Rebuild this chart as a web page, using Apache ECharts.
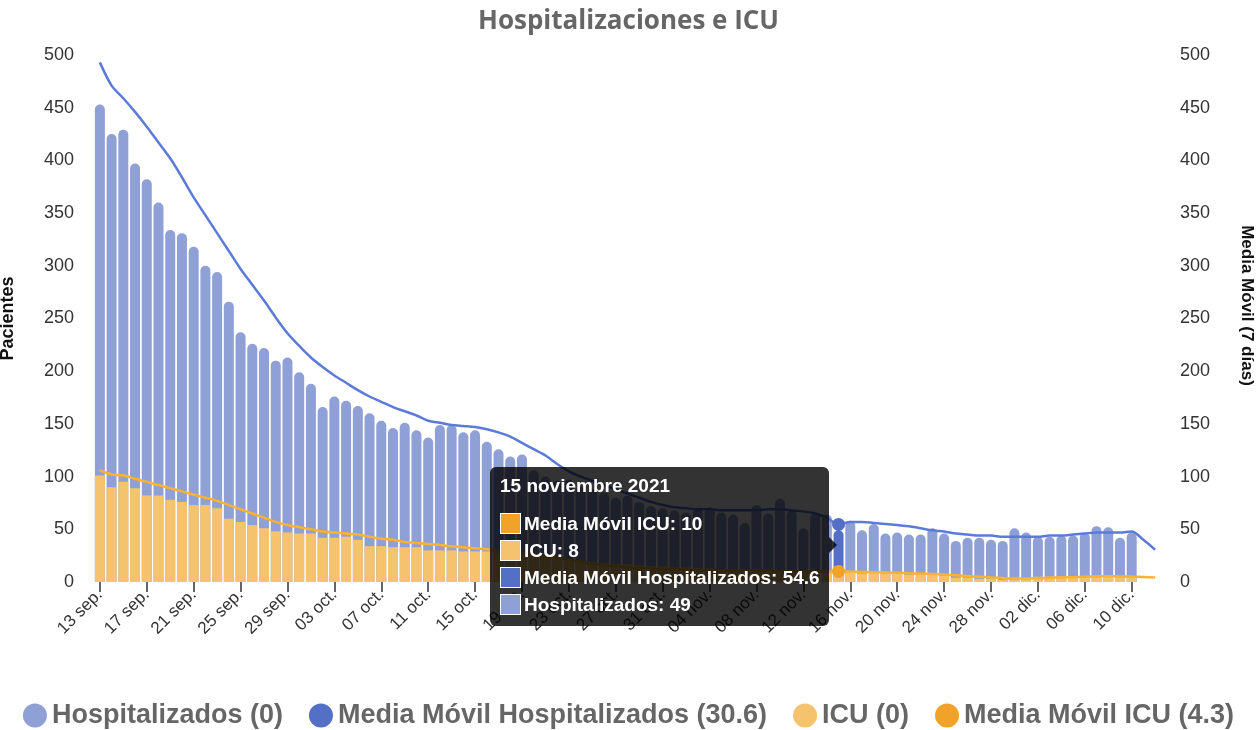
<!DOCTYPE html>
<html>
<head>
<meta charset="utf-8">
<title>Hospitalizaciones e ICU</title>
<script src="https://cdn.jsdelivr.net/npm/echarts@6/dist/echarts.min.js"></script>
<style>
    html, body { margin: 0; padding: 0; background: #fff; }
    #chart { width: 1257px; height: 730px; }
</style>
</head>
<body>
<div id="chart"></div>
<script>
// first day of the series, one value per day
const startDate = Date.UTC(2021, 8, 13);
const monthsShort = ["ene.", "feb.", "mar.", "abr.", "may.", "jun.", "jul.", "ago.", "sep.", "oct.", "nov.", "dic."];
const monthsLong = ["enero", "febrero", "marzo", "abril", "mayo", "junio", "julio", "agosto", "septiembre", "octubre", "noviembre", "diciembre"];

const hospitalizados = [
    453, 425, 429, 397, 382, 360, 334, 331, 318, 300, 294, 266, 237, 226, 222, 210, 213, 199, 188, 166, 176, 172, 167, 160, 153,
    146, 151, 144, 137, 149, 149, 142, 144, 133, 126, 119, 121,
    106, 100, 96, 97, 90, 88, 85, 80, 82, 76, 72, 70, 68, 66, 70, 71, 66, 64, 56, 73, 65, 79, 68, 51, 65, 64,
    49,
    58, 49, 55, 46, 47, 45, 45, 51, 46, 39, 42, 42, 40, 39, 51, 47, 43, 43, 44, 44, 47, 53, 52, 42, 47, 0, 0
];
const icu = [
    101, 90, 95, 89, 82, 82, 78, 76, 73, 73, 70, 60, 57, 54, 51, 48, 47, 46, 46, 42, 42, 43, 40, 34, 34,
    33, 33, 33, 30, 30, 30, 29, 29, 29, 28, 27, 26, 25, 24, 22, 21, 20, 19, 18, 17, 17, 16, 15, 15, 14, 14, 13, 13, 12, 12, 11, 12, 11, 11, 10, 10, 10, 9,
    8,
    9, 8, 9, 8, 8, 7, 7, 7, 6, 4, 4, 3, 3, 2, 2, 3, 5, 5, 5, 5, 5, 6, 6, 5, 5, 0, 0
];
const mediaHosp = [
    493, 471, 459, 446, 432, 417, 402, 384, 365, 348, 331, 314, 297, 282, 267, 251, 236, 224, 213, 204, 196, 189, 182, 176, 171,
    166, 162, 158, 153, 151, 149, 148, 147, 145, 142, 138, 132, 126, 120, 112, 105, 100, 96, 92, 88, 84, 80, 76, 73, 71, 70, 69, 69, 68, 68, 68, 68, 69, 69, 68, 67, 65, 61,
    54.6,
    57, 57, 56, 55, 54, 53, 51, 49, 48, 46, 45, 44, 44, 43, 43, 43, 43, 44, 44, 45, 46, 47, 47, 47, 48, 40, 30.6
];
const mediaIcu = [
    106, 102, 101, 98, 95, 92, 89, 86, 83, 80, 77, 73, 69, 65, 61, 57, 54, 52, 50, 48, 47, 46, 45, 43, 41,
    40, 38, 37, 36, 35, 34, 33, 32, 31, 30, 29, 27, 26, 24, 23, 21, 19, 17, 16, 15, 14, 13, 13, 12, 12, 12, 11, 11, 11, 11, 11, 11, 11, 10, 10, 10, 10, 10,
    10,
    9.8, 9.5, 9.3, 9, 8.7, 8.3, 8, 7.6, 7, 6.3, 5.6, 5, 4.3, 3.7, 3.3, 3.3, 3.6, 4, 4.3, 4.6, 5, 5.3, 5.4, 5.3, 5.1, 4.7, 4.3
];
const tooltipIndex = 63;

const colors = {
    hosp: "#8fa0d6",
    hospDark: "#5470c6",
    icu: "#f5c36e",
    icuDark: "#f0a229"
};

function dayOf(i) {
    return new Date(startDate + i * 86400000);
}

function shortLabel(i) {
    let d = dayOf(i);
    return ("0" + d.getUTCDate()).substr(-2) + " " + monthsShort[d.getUTCMonth()];
}

function longLabel(i) {
    let d = dayOf(i);
    return d.getUTCDate() + " " + monthsLong[d.getUTCMonth()] + " " + d.getUTCFullYear();
}

let categories = hospitalizados.map((v, i) => shortLabel(i));
let lastValues = {
    "Hospitalizados": hospitalizados[hospitalizados.length - 1],
    "Media Móvil Hospitalizados": mediaHosp[mediaHosp.length - 1],
    "ICU": icu[icu.length - 1],
    "Media Móvil ICU": mediaIcu[mediaIcu.length - 1]
};
let tooltipOrder = ["Media Móvil ICU", "ICU", "Media Móvil Hospitalizados", "Hospitalizados"];
let markerColor = {
    "Media Móvil ICU": colors.icuDark,
    "ICU": colors.icu,
    "Media Móvil Hospitalizados": colors.hospDark,
    "Hospitalizados": colors.hosp
};

let chart = echarts.init(document.getElementById("chart"));
let option = {
    animation: false,
    textStyle: {
        fontFamily: "Liberation Sans, Arial, sans-serif"
    },
    title: {
        text: "Hospitalizaciones e ICU",
        left: "center",
        top: 4,
        textStyle: {
            fontFamily: "Open Sans",
            fontSize: 26,
            fontWeight: "bold",
            color: "#666"
        }
    },
    grid: {
        left: 94,
        right: 96,
        top: 55,
        bottom: 148,
        outerBoundsMode: "none"
    },
    legend: {
        top: 697,
        left: "center",
        icon: "circle",
        itemWidth: 24,
        itemHeight: 24,
        itemGap: 26,
        data: ["Hospitalizados", "Media Móvil Hospitalizados", "ICU", "Media Móvil ICU"],
        formatter: function (name) {
            return name + " (" + lastValues[name] + ")";
        },
        textStyle: {
            fontSize: 27,
            fontWeight: "bold",
            color: "#666"
        }
    },
    tooltip: {
        trigger: "axis",
        triggerOn: "none",
        alwaysShowContent: true,
        axisPointer: {
            type: "line",
            lineStyle: {
                color: "transparent"
            }
        },
        position: function () {
            return [490, 467];
        },
        backgroundColor: "rgba(0,0,0,0.8)",
        borderWidth: 0,
        padding: [9, 9, 8, 10],
        extraCssText: "box-shadow:none;border-radius:6px;",
        textStyle: {
            color: "#fff"
        },
        formatter: function (params) {
            let byName = {};
            params.forEach(p => { byName[p.seriesName] = p.value; });
            let html = '<div style="font-weight:bold;font-size:19px;line-height:20px;margin-bottom:14px">' +
                longLabel(params[0].dataIndex) + '</div>';
            tooltipOrder.forEach(name => {
                html += '<div style="display:flex;align-items:center;height:27px;font-size:19px;font-weight:bold">' +
                    '<span style="display:inline-block;width:19px;height:19px;margin-right:3px;border:1px solid #fff;background:' +
                    markerColor[name] + '"></span>' + name + ": " + byName[name] + '</div>';
            });
            html += '<div style="position:absolute;right:-8px;top:70px;width:0;height:0;' +
                'border-top:8px solid transparent;border-bottom:8px solid transparent;border-left:8px solid rgba(0,0,0,0.8)"></div>';
            return html;
        }
    },
    xAxis: {
        type: "category",
        data: categories,
        boundaryGap: true,
        axisLine: { show: false },
        axisTick: {
            show: true,
            interval: 3,
            alignWithLabel: true,
            length: 10,
            lineStyle: { color: "#333", width: 1.5 }
        },
        axisLabel: {
            interval: 3,
            rotate: 45,
            margin: 10,
            fontSize: 17,
            color: "#333"
        },
        splitLine: { show: false }
    },
    yAxis: [
        {
            type: "value",
            min: 0,
            max: 500,
            interval: 50,
            name: "Pacientes",
            nameLocation: "middle",
            nameRotate: 90,
            nameGap: 77,
            nameTextStyle: { fontSize: 18, fontWeight: "bold", color: "#111" },
            axisLine: { show: false },
            axisTick: { show: false },
            splitLine: { show: false },
            axisLabel: { fontSize: 18, color: "#333", margin: 20 }
        },
        {
            type: "value",
            min: 0,
            max: 500,
            interval: 50,
            position: "right",
            name: "Media Móvil (7 días)",
            nameLocation: "middle",
            nameRotate: -90,
            nameGap: 77,
            nameTextStyle: { fontSize: 17, fontWeight: "bold", color: "#111", padding: [0, 26, 0, 0] },
            axisLine: { show: false },
            axisTick: { show: false },
            splitLine: { show: false },
            axisLabel: { fontSize: 18, color: "#333", margin: 19 }
        }
    ],
    series: [
        {
            name: "Hospitalizados",
            type: "bar",
            data: hospitalizados,
            barWidth: 10,
            barGap: "-100%",
            itemStyle: { color: colors.hosp, borderRadius: [5, 5, 0, 0] },
            emphasis: { itemStyle: { color: colors.hospDark } }
        },
        {
            name: "ICU",
            type: "bar",
            data: icu,
            barWidth: 10,
            barGap: "-100%",
            itemStyle: { color: colors.icu },
            emphasis: { itemStyle: { color: colors.icu } }
        },
        {
            name: "Media Móvil Hospitalizados",
            type: "line",
            yAxisIndex: 1,
            data: mediaHosp,
            z: 5,
            smooth: 0.3,
            showSymbol: false,
            symbol: "circle",
            symbolSize: 13,
            itemStyle: { color: colors.hospDark },
            lineStyle: { color: colors.hospDark, width: 2.5 },
            emphasis: { scale: false, lineStyle: { width: 2.5 } }
        },
        {
            name: "Media Móvil ICU",
            type: "line",
            yAxisIndex: 1,
            data: mediaIcu,
            z: 5,
            smooth: 0.3,
            showSymbol: false,
            symbol: "circle",
            symbolSize: 13,
            itemStyle: { color: colors.icuDark },
            lineStyle: { color: colors.icuDark, width: 2.5 },
            emphasis: { scale: false, lineStyle: { width: 2.5 } }
        }
    ]
};
chart.setOption(option);
chart.dispatchAction({
    type: "showTip",
    seriesIndex: 0,
    dataIndex: tooltipIndex
});
</script>
</body>
</html>
